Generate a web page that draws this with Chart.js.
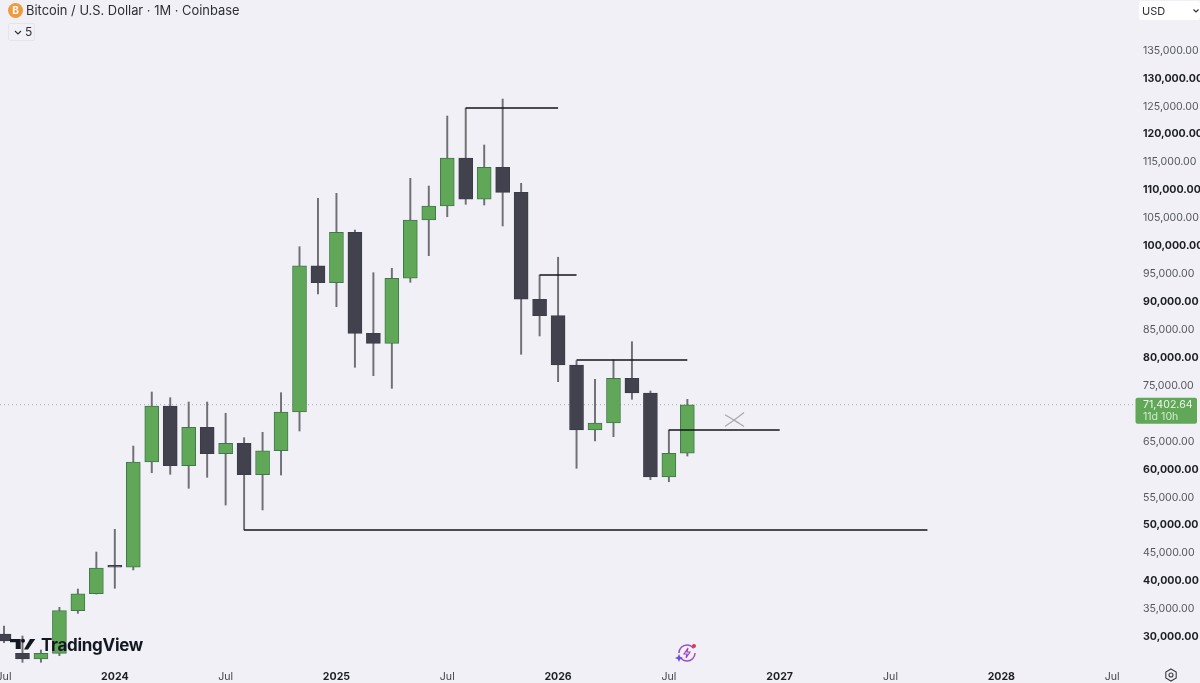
<!DOCTYPE html>
<html>
<head>
<meta charset="utf-8">
<title>Bitcoin / U.S. Dollar</title>
<script src="https://cdn.jsdelivr.net/npm/chart.js@4"></script>
<style>
    html, body { margin: 0; padding: 0; background: #f0f0f6; }
    #wrap { position: relative; width: 1200px; height: 683px; overflow: hidden; font-family: Inter, sans-serif; }
    #chart { position: absolute; left: 0; top: 0; }
    .btc { position: absolute; left: 8px; top: 3px; width: 15px; height: 15px; border-radius: 50%; background: #ef9a3c; color: #fff; font-size: 10px; font-weight: 700; text-align: center; line-height: 15px; }
    .title { position: absolute; left: 26px; top: 2px; font-size: 12.9px; line-height: 17px; color: #2e2e36; white-space: nowrap; }
    .count { position: absolute; left: 8px; top: 23px; width: 25px; height: 16px; border: 1px solid #e4e4ea; border-radius: 2px; font-size: 12px; line-height: 16px; color: #2e2e36; box-sizing: content-box; }
    .count span { position: absolute; left: 16px; top: 0; }
    .count svg { position: absolute; left: 5px; top: 6px; }
    .usd { position: absolute; left: 1139px; top: 1px; width: 61px; height: 19px; background: #fff; border-radius: 3px; font-size: 11px; line-height: 20px; color: #2e2e36; }
    .usd span { position: absolute; left: 3px; top: 0; }
    .usd svg { position: absolute; left: 54px; top: 8px; }
    .logo { position: absolute; left: 10px; top: 636px; }
    .logotext { position: absolute; left: 41px; top: 635px; font-size: 17px; line-height: 20px; font-weight: 700; color: #131722; letter-spacing: -0.3px; }
    .spark { position: absolute; left: 675px; top: 642px; }
    .gear { position: absolute; left: 1164px; top: 668px; }
</style>
</head>
<body>
<div id="wrap">
    <canvas id="chart" width="1200" height="683"></canvas>
    <div class="btc">B</div>
    <div class="title">Bitcoin / U.S. Dollar · 1M · Coinbase</div>
    <div class="count">
        <svg width="8" height="5" viewBox="0 0 8 5"><path d="M1 1l3 3 3-3" fill="none" stroke="#2e2e36" stroke-width="1.1"/></svg>
        <span>5</span>
    </div>
    <div class="usd">
        <span>USD</span>
        <svg width="6" height="4" viewBox="0 0 6 4"><path d="M0.5 0.5l2.5 2.5 2.5-2.5" fill="none" stroke="#2e2e36" stroke-width="1.1"/></svg>
    </div>
    <svg class="logo" width="28" height="18" viewBox="0 0 28 18">
        <path d="M0 3h10.7v10H5.7V6.3H0z" fill="#131722"/>
        <circle cx="13" cy="4.8" r="2" fill="#131722"/>
        <path d="M14 13.5L20 3h5.3L18 13.5z" fill="#131722"/>
    </svg>
    <div class="logotext">TradingView</div>
    <svg class="spark" width="24" height="24" viewBox="0 0 24 24">
        <circle cx="12" cy="11" r="8" fill="none" stroke="#9a4fc0" stroke-width="1.5" stroke-dasharray="20 5"/>
        <path d="M13 6l-4 6h3l-1 4 4-6h-3z" fill="none" stroke="#a03fc0" stroke-width="1.1"/>
        <path d="M4 12l1.2 2.8L8 16l-2.8 1.2L4 20l-1.2-2.8L0 16l2.8-1.2z" fill="#6a4ee0"/>
        <circle cx="19" cy="4" r="2" fill="#e0364c"/>
    </svg>
    <svg class="gear" width="14" height="14" viewBox="0 0 14 14">
        <path d="M7 1l5.2 3v6L7 13l-5.2-3V4z" fill="none" stroke="#3a3a42" stroke-width="1.1"/>
        <circle cx="7" cy="7" r="2" fill="none" stroke="#3a3a42" stroke-width="1.1"/>
    </svg>
</div>
<script>
// Values, one entry per month from Jul 2023 to Aug 2026
const monthIdx = [0, 1, 2, 3, 4, 5, 6, 7, 8, 9, 10, 11, 12, 13, 14, 15, 16, 17, 18, 19,
    20, 21, 22, 23, 24, 25, 26, 27, 28, 29, 30, 31, 32, 33, 34, 35, 36, 37];
const opens = [30360, 26900, 25880, 26900, 34530, 37570, 42410, 42300, 61150, 71170,
    60490, 67360, 62640, 64500, 58880, 63170, 70100, 96290, 93250, 102270,
    84190, 82400, 94040, 104470, 106980, 115570, 108180, 113910, 109430, 90280,
    87340, 78510, 66880, 68130, 76130, 73500, 58460, 62710];
const closes = [29100, 25880, 26900, 34530, 37570, 42170, 42300, 61150, 71170, 60490,
    67360, 62640, 64500, 58880, 63170, 70100, 96290, 93250, 102270, 84190,
    82400, 94040, 104470, 106980, 115570, 108180, 113910, 109430, 90280, 87340,
    78510, 66880, 68130, 76130, 73500, 58460, 62710, 71402.64];
const highs = [31790, 30000, 27490, 35140, 38410, 45040, 49100, 64010, 73680, 72660,
    71890, 71890, 69870, 65500, 66470, 73560, 99690, 108360, 109250, 102680,
    95040, 95830, 111940, 110560, 123090, 124520, 117900, 126130, 111040, 94620,
    97800, 79290, 75950, 79410, 82690, 73860, 66880, 72370];
const lows = [28800, 25290, 25290, 26470, 34060, 37500, 38540, 41820, 59230, 58950,
    56440, 58410, 53450, 48980, 52560, 58820, 66700, 91230, 88950, 78100,
    76600, 74340, 93320, 98080, 105060, 107280, 107160, 103400, 80430, 83710,
    75530, 60020, 64910, 65680, 72370, 57980, 57620, 62220];

// Axis ticks
const xTickValues = [0, 6, 12, 18, 24, 30, 36, 42, 48, 54, 60];
const xTickLabels = ['Jul', '2024', 'Jul', '2025', 'Jul', '2026', 'Jul', '2027', 'Jul', '2028', 'Jul'];
const yTickValues = [30000, 35000, 40000, 45000, 50000, 55000, 60000, 65000, 75000, 80000, 85000, 90000,
    95000, 100000, 105000, 110000, 115000, 120000, 125000, 130000, 135000];

// Drawn horizontal levels: month start, month end, price
const levelStart = [13, 25, 29, 31, 36];
const levelEnd = [50, 30, 31, 37, 42];
const levelPrice = [48980, 124520, 94620, 79410, 66880];

// The small cross drawn to the right of the last candle
const crossX = [39.04, 39.55, 40.07];
const crossA = [69600, 68600, 67500];
const crossB = [67500, 68700, 70000];

const lastPrice = 71402.64;
const lastLabel = '71,402.64';
const countdownLabel = '11d 10h';

const GREEN = '#60a858';
const GREEN_EDGE = '#41784a';
const DARK = '#41424e';
const WICK = '#6f6f75';
const LINE = '#15151c';

const isUp = monthIdx.map(i => closes[i] >= opens[i]);

// round ten-thousands are bold on the price axis
const isRound = v => v % 10000 === 0;
const isYearTick = v => xTickLabels[xTickValues.indexOf(v)] !== 'Jul';

const levelSets = levelStart.map((s, n) => ({
    type: 'line',
    data: [{ x: s, y: levelPrice[n] }, { x: levelEnd[n], y: levelPrice[n] }],
    borderColor: LINE,
    borderWidth: 1.4,
    pointRadius: 0,
    order: 0
}));

function crossSet(ys) {
    return {
        type: 'line',
        data: crossX.map((x, n) => ({ x: x, y: ys[n] })),
        borderColor: '#a8a8b0',
        borderWidth: 1.2,
        pointRadius: 0,
        tension: 0.4,
        order: 0
    };
}

// Price tag on the right axis, follows the y scale
const priceTag = {
    id: 'priceTag',
    afterDraw(chart) {
        const c = chart.ctx;
        const y = chart.scales.y.getPixelForValue(lastPrice);
        c.save();
        c.fillStyle = GREEN;
        c.beginPath();
        c.roundRect(1135.5, y - 7, 61.5, 26, 2);
        c.fill();
        c.font = '10.6px Inter';
        c.textBaseline = 'middle';
        c.fillStyle = '#eef5ec';
        c.fillText(lastLabel, 1143, y + 0.5);
        c.fillStyle = '#d3e8cf';
        c.fillText(countdownLabel, 1143, y + 12);
        c.restore();
    }
};

new Chart(document.getElementById('chart'), {
    type: 'bar',
    data: {
        datasets: [
            {
                // candle bodies
                data: monthIdx.map(i => ({ x: i, y: [opens[i], closes[i]] })),
                backgroundColor: isUp.map(u => u ? GREEN : DARK),
                borderColor: isUp.map(u => u ? GREEN_EDGE : '#3b3c47'),
                borderWidth: 1,
                borderSkipped: false,
                barThickness: 14,
                minBarLength: 2,
                grouped: false,
                order: 1
            },
            {
                // wicks
                data: monthIdx.map(i => ({ x: i, y: [lows[i], highs[i]] })),
                backgroundColor: WICK,
                barThickness: 1.3,
                grouped: false,
                order: 2
            },
            ...levelSets,
            crossSet(crossA),
            crossSet(crossB),
            {
                // last price dotted line
                type: 'line',
                data: [{ x: -0.217, y: lastPrice }, { x: 61.13, y: lastPrice }],
                borderColor: '#a9a9b1',
                borderWidth: 1,
                borderDash: [1, 3],
                pointRadius: 0,
                order: 3
            }
        ]
    },
    options: {
        responsive: false,
        animation: false,
        layout: { padding: 0 },
        plugins: { legend: { display: false }, tooltip: { enabled: false } },
        scales: {
            x: {
                type: 'linear',
                offset: false,
                min: -0.217,
                max: 61.13,
                grid: { display: false, drawTicks: false },
                border: { display: false },
                afterBuildTicks: s => { s.ticks = xTickValues.map(v => ({ value: v })); },
                afterFit: s => { s.height = 19; s.paddingLeft = 0; s.paddingRight = 0; },
                ticks: {
                    autoSkip: false,
                    maxRotation: 0,
                    padding: 6,
                    color: ctx => ctx.tick && isYearTick(ctx.tick.value) ? '#1e1e26' : '#44444c',
                    font: ctx => ({ family: 'Inter', size: 10.6, weight: ctx.tick && isYearTick(ctx.tick.value) ? '700' : '400' }),
                    callback: v => xTickLabels[xTickValues.indexOf(v)]
                }
            },
            y: {
                position: 'right',
                min: 24987,
                max: 143858,
                grid: { display: false, drawTicks: false },
                border: { display: false },
                afterBuildTicks: s => { s.ticks = yTickValues.map(v => ({ value: v })); },
                afterFit: s => { s.width = 67; s.paddingTop = 0; s.paddingBottom = 0; },
                ticks: {
                    autoSkip: false,
                    crossAlign: 'near',
                    padding: 10,
                    labelOffset: 1,
                    color: ctx => ctx.tick && isRound(ctx.tick.value) ? '#1e1e26' : '#55555e',
                    font: ctx => ({ family: 'Inter', size: 10.6, weight: ctx.tick && isRound(ctx.tick.value) ? '700' : '400' }),
                    callback: v => v.toLocaleString('en-US', { minimumFractionDigits: 2 })
                }
            }
        }
    },
    plugins: [priceTag]
});
</script>
</body>
</html>
